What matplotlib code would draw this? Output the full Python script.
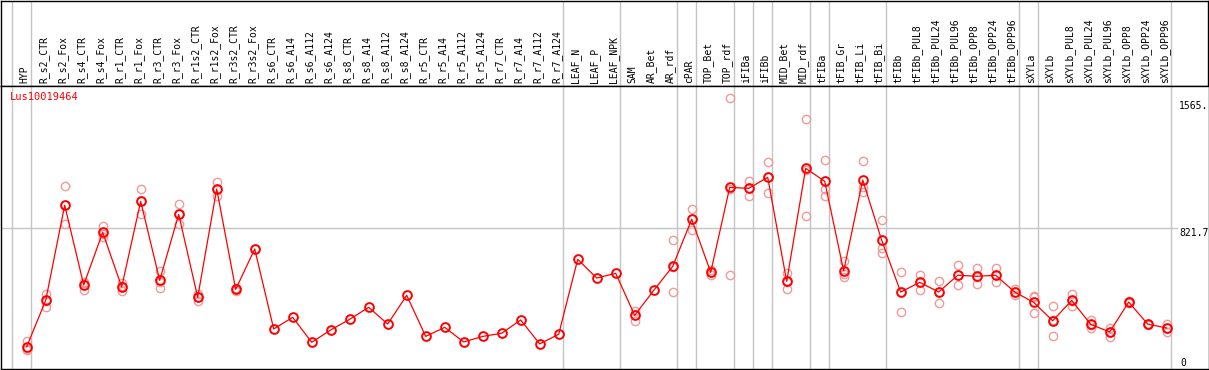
import numpy as np
import matplotlib
matplotlib.use('Agg')
import matplotlib.pyplot as plt
from matplotlib.transforms import blended_transform_factory

labels = ['HYP', 'R_s2_CTR', 'R_s2_Fox', 'R_s4_CTR', 'R_s4_Fox', 'R_r1_CTR', 'R_r1_Fox',
          'R_r3_CTR', 'R_r3_Fox', 'R_r1s2_CTR', 'R_r1s2_Fox', 'R_r3s2_CTR', 'R_r3s2_Fox',
          'R_s6_CTR', 'R_s6_A14', 'R_s6_A112', 'R_s6_A124', 'R_s8_CTR', 'R_s8_A14',
          'R_s8_A112', 'R_s8_A124', 'R_r5_CTR', 'R_r5_A14', 'R_r5_A112', 'R_r5_A124',
          'R_r7_CTR', 'R_r7_A14', 'R_r7_A112', 'R_r7_A124', 'LEAF_N', 'LEAF_P', 'LEAF_NPK',
          'SAM', 'AR_Bet', 'AR_rdf', 'cPAR', 'TOP_Bet', 'TOP_rdf', 'iFIBa', 'iFIBb',
          'MID_Bet', 'MID_rdf', 'tFIBa', 'tFIB_Gr', 'tFIB_Li', 'tFIB_Bi', 'tFIBb',
          'tFIBb_PUL8', 'tFIBb_PUL24', 'tFIBb_PUL96', 'tFIBb_OPP8', 'tFIBb_OPP24',
          'tFIBb_OPP96', 'sXYLa', 'sXYLb', 'sXYLb_PUL8', 'sXYLb_PUL24', 'sXYLb_PUL96',
          'sXYLb_OPP8', 'sXYLb_OPP24', 'sXYLb_OPP96']

means = [99, 381, 960, 475, 795, 463, 984, 503, 905, 400, 1059, 448, 694,
         207, 278, 126, 201, 266, 339, 237, 412, 162, 217, 128, 162, 181, 262, 116, 175,
         631, 517, 546,
         290, 442, 588, 875, 552, 1069, 1063, 1130, 497, 1185, 1106, 560, 1114, 747,
         432, 491, 432, 534, 528, 534, 432, 369, 257, 381, 235, 189, 371, 237, 213]

reps = [[136, 83, 78], [422, 343, 378], [1075, 844, 961], [495, 444, 486], [836, 765, 784],
        [485, 438, 466], [1059, 907, 986], [560, 455, 494], [966, 844, 905], [420, 379, 401],
        [1102, 1016, 1059], [456, 436, 452], [694],
        [], [], [], [], [], [], [], [], [], [], [], [], [], [], [], [],
        [], [], [],
        [318, 257, 295], [], [747, 432, 585], [937, 810, 878], [564, 536, 556],
        [1611, 534, 1062], [1108, 1018, 1063], [1222, 1033, 1135], [546, 452, 493],
        [1483, 895, 1177], [1234, 1057, 1018], [621, 540, 525], [1230, 1069, 1043],
        [870, 698, 668], [552, 309, 435], [534, 446, 493], [499, 363, 434], [595, 473, 534],
        [576, 483, 525], [576, 491, 535], [448, 414, 434], [406, 302, 399], [345, 162, 264],
        [418, 347, 378], [262, 211, 233], [215, 160, 191], [375, 371, 367], [240, 237, 234],
        [239, 187, 213]]

group_sizes = [1, 28, 3, 3, 1, 2, 1, 1, 2, 1, 3, 7, 1, 7]

gene = 'Lus10019464'

W, H = 1209, 370
fig = plt.figure(figsize=(W / 100, H / 100), dpi=100)


def px_axes(x0, y0, x1, y1):
    return fig.add_axes([x0 / W, 1 - y1 / H, (x1 - x0) / W, (y1 - y0) / H])


head = px_axes(1, 0.5, 1208, 86)
ax = px_axes(1, 86, 1208.5, 369)

x = np.arange(len(labels))
xlim = ((1 - 26.7) / 19, (1208.5 - 26.7) / 19)
ax.set_xlim(xlim)
ax.set_ylim(-36.5, 1686)
head.set_xlim(xlim)
head.set_ylim(0, 1)

grey = '#c4c4c4'
bounds = np.cumsum([0] + group_sizes) - 1 + 0.25
for b in bounds:
    ax.axvline(b, color=grey, lw=1.0, zorder=1)
    head.axvline(b, color=grey, lw=1.0, zorder=1)
ax.axhline(821.7, xmax=0.9735, color=grey, lw=1.0, zorder=1)

for i, r in enumerate(reps):
    if r:
        ax.plot([i] * len(r), r, linestyle='none', marker='o', ms=6, mfc='none',
                mec='#f09a9a', mew=1.0, zorder=2)

ax.plot(x, means, color='red', lw=0.9, marker='o', ms=6.3, mfc='none', mec='red',
        mew=1.4, zorder=3)

for a in (ax, head):
    a.set_xticks([])
    a.set_yticks([])
    for s in a.spines.values():
        s.set_color('black')
        s.set_linewidth(1.0)

mono = 'DejaVu Sans Mono'
for i, lab in enumerate(labels):
    head.text(i - 0.1, 0.03, lab, rotation=90, ha='center', va='bottom',
              fontsize=7, family=mono)

ax.text(0.0075, 0.961, gene, transform=ax.transAxes, color='red', fontsize=7.5,
        family=mono, va='center', ha='left')

tr = blended_transform_factory(ax.transAxes, ax.transData)
ax.text(0.9755, 1565, '1565.', transform=tr, fontsize=7, family=mono, va='center')
ax.text(0.9755, 821.7, '821.7', transform=tr, fontsize=7, family=mono, va='top')
ax.text(0.9765, 0, '0', transform=tr, fontsize=7, family=mono, va='center')

fig.savefig('out.png', dpi=100)
